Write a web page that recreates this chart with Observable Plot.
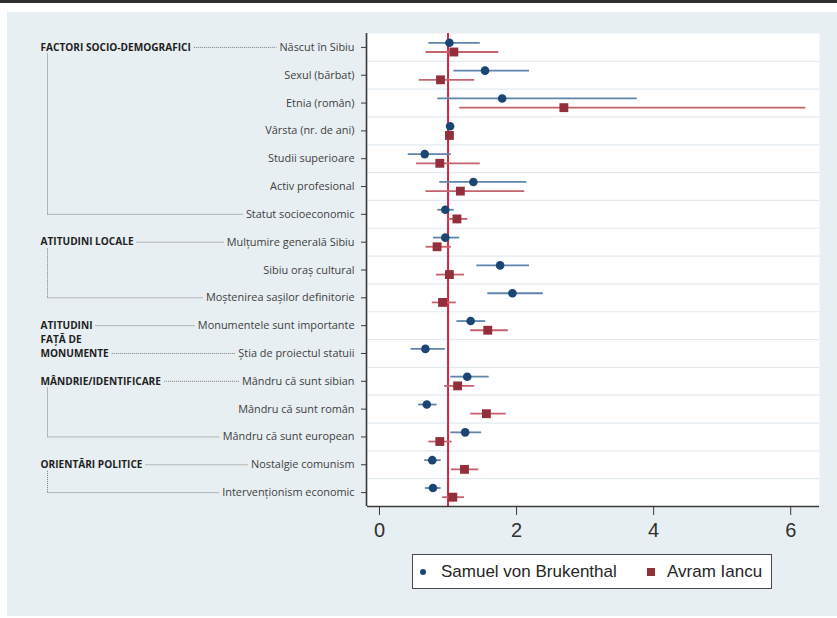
<!DOCTYPE html>
<html>
<head>
<meta charset="utf-8">
<script src="https://cdn.jsdelivr.net/npm/d3@7"></script>
<script src="https://cdn.jsdelivr.net/npm/@observablehq/plot@0.6"></script>
<style>
  html, body { margin: 0; padding: 0; background: #ffffff; }
  #page { position: relative; width: 837px; height: 618px; overflow: hidden; background: #ffffff; }
  #topbar { position: absolute; left: 0; top: 0; width: 837px; height: 3px; background: #2e2e2e; }
  #panel { position: absolute; left: 7px; top: 12px; width: 830px; height: 604px; background: #e8eff2; }
  .layer { position: absolute; left: 0; top: 0; }
  #legend { position: absolute; left: 412px; top: 554px; width: 358px; height: 33px; background: #ffffff;
            border: 1px solid #4a4a4a; font-family: "Liberation Sans", Arial, sans-serif; font-size: 17px; color: #262626; }
  #legend .sw { position: absolute; }
  #legend .lb { position: absolute; top: 7px; white-space: nowrap; line-height: 19px; }
</style>
</head>
<body>
<div id="page">
  <div id="topbar"></div>
  <div id="panel"></div>
  <div id="main" class="layer"></div>
  <div id="left" class="layer"></div>
  <div id="legend"></div>
</div>
<script>
// ---------------- data ----------------
const rows = [
  "Născut în Sibiu", "Sexul (bărbat)", "Etnia (român)", "Vârsta (nr. de ani)",
  "Studii superioare", "Activ profesional", "Statut socioeconomic",
  "Mulțumire generală Sibiu", "Sibiu oraș cultural", "Moștenirea sașilor definitorie",
  "Monumentele sunt importante", "Știa de proiectul statuii",
  "Mândru că sunt sibian", "Mândru că sunt român", "Mândru că sunt european",
  "Nostalgie comunism", "Intervenționism economic"
];
const brukEst = [1.02, 1.54, 1.79, 1.03, 0.66, 1.37, 0.96, 0.96, 1.76, 1.94, 1.33, 0.67, 1.28, 0.69, 1.25, 0.77, 0.78];
const brukLo  = [0.72, 1.085, 0.85, 1.01, 0.42, 0.88, 0.85, 0.79, 1.42, 1.58, 1.13, 0.46, 1.04, 0.57, 1.04, 0.66, 0.67];
const brukHi  = [1.47, 2.19, 3.76, 1.05, 1.05, 2.15, 1.09, 1.17, 2.19, 2.39, 1.55, 0.96, 1.60, 0.84, 1.49, 0.90, 0.90];
const iancuEst = [1.085, 0.89, 2.69, 1.02, 0.88, 1.18, 1.13, 0.84, 1.02, 0.92, 1.58, null, 1.14, 1.56, 0.88, 1.24, 1.07];
const iancuLo  = [0.68, 0.58, 1.17, 1.00, 0.54, 0.68, 0.99, 0.68, 0.83, 0.77, 1.33, null, 0.95, 1.33, 0.72, 1.05, 0.92];
const iancuHi  = [1.74, 1.39, 6.22, 1.04, 1.47, 2.12, 1.29, 1.05, 1.24, 1.12, 1.88, null, 1.39, 1.85, 1.06, 1.45, 1.24];
const seriesNames = ["Samuel von Brukenthal", "Avram Iancu"];
const xTicks = [0, 2, 4, 6];
const refValue = 1;
const groupNames = ["FACTORI SOCIO-DEMOGRAFICI", "ATITUDINI LOCALE", "ATITUDINI\nFAȚĂ DE\nMONUMENTE", "MÂNDRIE/IDENTIFICARE", "ORIENTĂRI POLITICE"];
const groupFirst = [0, 7, 10, 12, 15];
const groupLast  = [6, 9, 11, 14, 16];
const groupBracket = [true, true, false, true, true];

// ---------------- styles / layout ----------------
const W = 837, H = 618;
const mLeft = 367, mRight = 18, mTop = 33, mBottom = 112;
const xDomain = [-0.175, 6.42];
const yDomain = [-0.5, rows.length - 0.5];
const blueDot = "#1b4573", blueCI = "#5f85ad";
const redDot = "#922f3a", redCI = "#c4636b";
const refColor = "#dc2442";
const gridColor = "#e2eaee";
const rowFont = "Open Sans";
const rowSize = 10.9;
const groupSize = 10.1;
const tickSize = 6, tickPad = 7;
const seriesOffset = 0.165;

const seriesCfg = [
  {name: seriesNames[0], est: brukEst, lo: brukLo, hi: brukHi, dot: blueDot, ci: blueCI, symbol: "circle", r: 4.3, off: -seriesOffset},
  {name: seriesNames[1], est: iancuEst, lo: iancuLo, hi: iancuHi, dot: redDot, ci: redCI, symbol: "square", r: 5.0, off: seriesOffset}
];

const yScale = {domain: yDomain, reverse: true};

const marks = [
  Plot.frame({fill: "#ffffff", stroke: "none"}),
  Plot.ruleY(d3.range(rows.length - 1).map(i => i + 0.5), {stroke: gridColor, strokeWidth: 1.2}),
  Plot.ruleX([refValue], {stroke: refColor, strokeWidth: 2})
];
for (const s of seriesCfg) {
  const data = rows.map((r, i) => ({i, est: s.est[i], lo: s.lo[i], hi: s.hi[i]})).filter(d => d.est != null);
  marks.push(Plot.ruleY(data, {y: d => d.i + s.off, x1: "lo", x2: "hi", stroke: s.ci, strokeWidth: 1.8}));
  marks.push(Plot.dot(data, {x: "est", y: d => d.i + s.off, symbol: () => s.symbol, r: s.r, fill: s.dot, stroke: "none"}));
}
marks.push(
  Plot.ruleX([xDomain[0]], {stroke: "#3a3a3a", strokeWidth: 1.6, dx: -1}),
  Plot.ruleY([yDomain[1]], {stroke: "#3a3a3a", strokeWidth: 1.6, x1: xDomain[0], x2: xDomain[1]}),
  Plot.axisY(d3.range(rows.length), {
    tickFormat: i => rows[i], tickSize, tickPadding: tickPad, stroke: "#3a3a3a",
    fontFamily: rowFont, fontSize: rowSize, fill: "#404040", label: null
  }),
  Plot.axisX(xTicks, {tickSize: 9, tickPadding: 7, stroke: "#3a3a3a", fontFamily: "Liberation Sans, Arial, sans-serif",
    fontSize: 20, fill: "#2f2f2f", label: null})
);

const main = Plot.plot({
  width: W, height: H,
  marginLeft: mLeft, marginRight: mRight, marginTop: mTop, marginBottom: mBottom,
  style: {background: "transparent", overflow: "visible"},
  x: {domain: xDomain},
  y: yScale,
  symbol: {type: "identity"},
  marks
});
document.getElementById("main").appendChild(main);

// ---------------- left annotations (group labels, brackets) ----------------
const ctx = document.createElement("canvas").getContext("2d");
function textW(t, size, weight) {
  ctx.font = `${weight} ${size}px "${rowFont}"`;
  return ctx.measureText(t).width;
}
const indent = 40;          // left start of group labels
const bracketX = indent + 7; // vertical bracket position
const gap = 3;
const rowEnd = mLeft - tickSize - tickPad;
const rowStart = i => rowEnd - textW(rows[i], rowSize, "normal") - gap;

const gText = [], links = [];
groupNames.forEach((name, g) => {
  const lines = name.split("\n");
  const f = groupFirst[g], l = groupLast[g];
  lines.forEach((t, k) => {
    const y = lines.length > 1 ? f + k * (l - f) / (lines.length - 1) : f;
    gText.push({t, y});
  });
  const firstW = textW(lines[0], groupSize, "bold");
  links.push({x1: indent + firstW + gap, y1: f, x2: rowStart(f), y2: f});
  if (lines.length > 1) {
    const lastW = textW(lines[lines.length - 1], groupSize, "bold");
    links.push({x1: indent + lastW + gap, y1: l, x2: rowStart(l), y2: l});
  }
  if (groupBracket[g]) {
    links.push({x1: bracketX, y1: f + 0.22, x2: bracketX, y2: l});
    links.push({x1: bracketX, y1: l, x2: rowStart(l), y2: l});
  }
});

const left = Plot.plot({
  width: mLeft, height: H,
  marginLeft: 0, marginRight: 0, marginTop: mTop, marginBottom: mBottom,
  style: {background: "transparent", overflow: "visible"},
  x: {type: "identity", axis: null},
  y: {...yScale, axis: null},
  marks: [
    Plot.link(links, {x1: "x1", y1: "y1", x2: "x2", y2: "y2", stroke: "#7d7d7d", strokeWidth: 1, strokeDasharray: "1,1"}),
    Plot.text(gText, {x: () => indent, y: "y", text: "t", textAnchor: "start", fontFamily: rowFont,
      fontWeight: "bold", fontSize: groupSize, fill: "#1e1e1e"})
  ]
});
document.getElementById("left").appendChild(left);

// ---------------- legend ----------------
const legend = document.getElementById("legend");
const legendPos = [{sw: 7, size: 6, lb: 28}, {sw: 234, size: 8, lb: 254}];
seriesCfg.forEach((s, k) => {
  const p = legendPos[k];
  const sw = document.createElement("div");
  sw.className = "sw";
  sw.style.left = p.sw + "px";
  sw.style.width = p.size + "px";
  sw.style.height = p.size + "px";
  sw.style.top = (16.5 - p.size / 2) + "px";
  sw.style.background = s.dot;
  if (s.symbol === "circle") sw.style.borderRadius = "50%";
  legend.appendChild(sw);
  const lb = document.createElement("div");
  lb.className = "lb";
  lb.style.left = p.lb + "px";
  lb.textContent = s.name;
  legend.appendChild(lb);
});
</script>
</body>
</html>
